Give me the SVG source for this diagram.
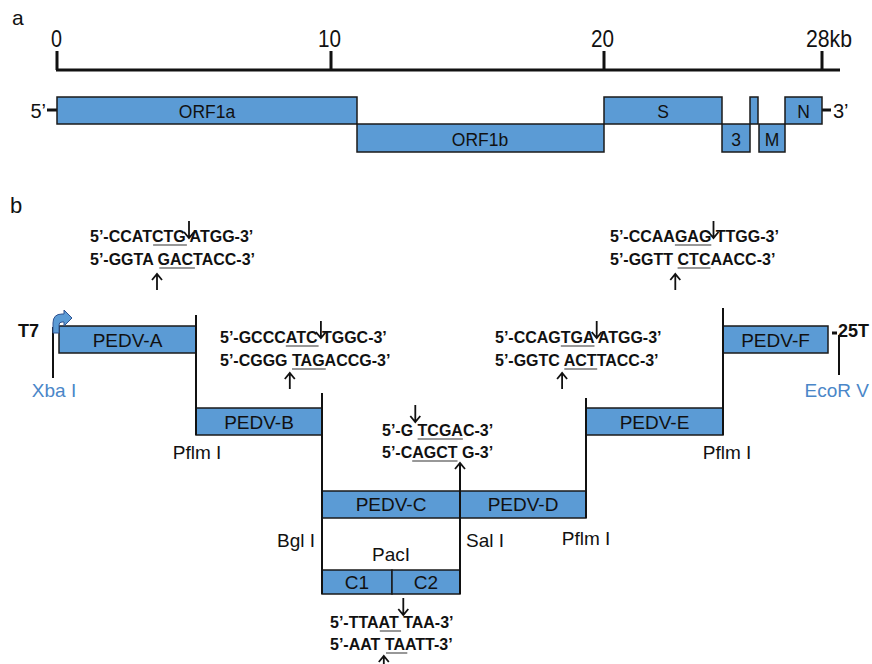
<svg xmlns="http://www.w3.org/2000/svg" width="872" height="664" viewBox="0 0 872 664">
<style>
text{font-family:"Liberation Sans",Arial,sans-serif;fill:#111}
.box{fill:#5B9BD5;stroke:#1a1a1a;stroke-width:1.5}
.bl{font-size:19px;text-anchor:middle}
.gl{font-size:17.5px;text-anchor:middle}
.seq{font-size:16px;font-weight:bold}
.site{font-size:19px}
.blue{fill:#4a86c8}
.ul{stroke:#333;stroke-width:1.2}
.arr{fill:none;stroke:#111;stroke-width:1.8}
.ln{stroke:#111;stroke-width:2;fill:none}
.thick{stroke:#111;stroke-width:3;fill:none}
.scl{font-size:24px}
</style>
<rect width="872" height="664" fill="#fff"/>

<!-- Panel a -->
<g id="panel-a">
  <text x="12" y="25" font-size="21">a</text>
  <g id="scale-bar">
    <line class="thick" x1="56" y1="70" x2="840" y2="70"/>
    <path class="thick" d="M57 51V70M331 51V70M604 51V70M822 51V70"/>
    <text class="scl" x="51" y="47" textLength="11" lengthAdjust="spacingAndGlyphs">0</text>
    <text class="scl" x="318" y="47" textLength="23" lengthAdjust="spacingAndGlyphs">10</text>
    <text class="scl" x="591" y="47" textLength="23" lengthAdjust="spacingAndGlyphs">20</text>
    <text class="scl" x="806" y="47" textLength="46" lengthAdjust="spacingAndGlyphs">28kb</text>
  </g>
  <g id="genome">
    <line class="thick" x1="47" y1="110" x2="57" y2="110"/>
    <text x="46" y="118" font-size="20" text-anchor="end">5’</text>
    <line class="thick" x1="822" y1="110" x2="831" y2="110"/>
    <text x="833" y="118" font-size="20">3’</text>
    <g id="orf1a"><rect class="box" x="57" y="97" width="300" height="27"/><text class="gl" x="207" y="118">ORF1a</text></g>
    <g id="orf1b"><rect class="box" x="357" y="124" width="247" height="28"/><text class="gl" x="480" y="146">ORF1b</text></g>
    <g id="orf-s"><rect class="box" x="604" y="97" width="118" height="27"/><text class="gl" x="663" y="118">S</text></g>
    <g id="orf-3"><rect class="box" x="722" y="124" width="28" height="28"/><text class="gl" x="736" y="146">3</text></g>
    <g id="orf-e"><rect class="box" x="750" y="97" width="8" height="27"/></g>
    <g id="orf-m"><rect class="box" x="759" y="124" width="26" height="28"/><text class="gl" x="772" y="146">M</text></g>
    <g id="orf-n"><rect class="box" x="785" y="97" width="37" height="27"/><text class="gl" x="803.5" y="118">N</text></g>
  </g>
</g>

<!-- Panel b -->
<text x="10" y="213" font-size="22">b</text>

<g id="nodes">
  <g id="pedv-a"><rect class="box" x="59" y="326" width="137" height="27"/><text class="bl" x="127.5" y="347">PEDV-A</text></g>
  <g id="pedv-b"><rect class="box" x="196" y="408" width="126" height="27"/><text class="bl" x="259" y="429">PEDV-B</text></g>
  <g id="pedv-c"><rect class="box" x="322" y="491" width="138" height="27"/><text class="bl" x="391" y="511">PEDV-C</text></g>
  <g id="pedv-d"><rect class="box" x="460" y="491" width="126" height="27"/><text class="bl" x="523" y="511">PEDV-D</text></g>
  <g id="pedv-e"><rect class="box" x="586" y="408" width="137" height="27"/><text class="bl" x="654.5" y="429">PEDV-E</text></g>
  <g id="pedv-f"><rect class="box" x="723" y="326" width="105" height="27"/><text class="bl" x="775.5" y="347">PEDV-F</text></g>
  <g id="c1"><rect class="box" x="322" y="570" width="70" height="24"/><text class="bl" x="357" y="589">C1</text></g>
  <g id="c2"><rect class="box" x="392" y="570" width="68" height="24"/><text class="bl" x="426" y="589">C2</text></g>
</g>

<g id="connectors">
  <path class="ln" d="M196 315V435M322 393V594M460 463V594M586 398V518M723 308V435M53 327V378M839 335V375"/>
  <line class="thick" x1="832" y1="333" x2="837" y2="333"/>
</g>

<g id="t7-promoter">
  <text x="18" y="337" font-size="18" font-weight="bold">T7</text>
  <path d="M53 333L53 323Q53 314 62 314L64 314L64 310L72 318L64 326L64 322L62 322Q59 322 59 325L59 333Z" fill="#5B9BD5" stroke="#2f528f" stroke-width="1"/>
</g>
<text x="838" y="337" font-size="18" font-weight="bold">25T</text>

<g id="site-labels">
  <text class="site blue" x="54" y="397" text-anchor="middle">Xba I</text>
  <text class="site blue" x="869" y="397" text-anchor="end" font-size="17">EcoR V</text>
  <text class="site" x="197" y="459" text-anchor="middle">Pflm I</text>
  <text class="site" x="727" y="459" text-anchor="middle">Pflm I</text>
  <text class="site" x="586" y="545" text-anchor="middle">Pflm I</text>
  <text class="site" x="315" y="547" text-anchor="end">Bgl I</text>
  <text class="site" x="466" y="547">Sal I</text>
  <text class="site" x="391" y="561" text-anchor="middle">PacI</text>
</g>

<g id="seq-pflmi-1">
  <text class="seq" x="90" y="242">5’-CCATCTG ATGG-3’</text>
  <text class="seq" x="90" y="265">5’-GGTA GACTACC-3’</text>
  <path class="ul" d="M153.1 245H186.9M159.3 268H194.9"/>
  <path class="arr" d="M189 221V238M184 232L189 238L194 232"/>
  <path class="arr" d="M157 290V274M152 280L157 274L162 280"/>
</g>
<g id="seq-pflmi-2">
  <text class="seq" x="610" y="242">5’-CCAAGAG TTGG-3’</text>
  <text class="seq" x="610" y="265">5’-GGTT CTCAACC-3’</text>
  <path class="ul" d="M674.9 245H711.3M677.6 268H710.5"/>
  <path class="arr" d="M713.5 221V238M708.5 232L713.5 238L718.5 232"/>
  <path class="arr" d="M675.3 290V274M670.3 280L675.3 274L680.3 280"/>
</g>
<g id="seq-bgli">
  <text class="seq" x="220" y="343">5’-GCCCATC TGGC-3’</text>
  <text class="seq" x="220" y="366">5’-CGGG TAGACCG-3’</text>
  <path class="ul" d="M285.8 346H318.6M292 369H325.8"/>
  <path class="arr" d="M320.9 321V338M315.9 332L320.9 338L325.9 332"/>
  <path class="arr" d="M289.8 389V373M284.8 379L289.8 373L294.8 379"/>
</g>
<g id="seq-pflmi-3">
  <text class="seq" x="495" y="343">5’-CCAGTGA ATGG-3’</text>
  <text class="seq" x="495" y="366">5’-GGTC ACTTACC-3’</text>
  <path class="ul" d="M560.8 346H594.5M564.3 369H597.2"/>
  <path class="arr" d="M596.7 321V338M591.7 332L596.7 338L601.7 332"/>
  <path class="arr" d="M562.1 389V373M557.1 379L562.1 373L567.1 379"/>
</g>
<g id="seq-sali">
  <text class="seq" x="382" y="436">5’-G TCGAC-3’</text>
  <text class="seq" x="382" y="458">5’-CAGCT G-3’</text>
  <path class="ul" d="M417.6 439H462.9M412.2 461H457.5"/>
  <path class="arr" d="M415.3 405V422M410.3 416L415.3 422L420.3 416"/>
  <path class="arr" d="M455 469L460 463L465 469"/>
</g>
<g id="seq-paci">
  <text class="seq" x="330" y="628">5’-TTAAT TAA-3’</text>
  <text class="seq" x="330" y="650">5’-AAT TAATT-3’</text>
  <path class="ul" d="M379.8 631H401.1M386 653H407.3"/>
  <path class="arr" d="M403.3 598V615M398.3 609L403.3 615L408.3 609"/>
  <path class="arr" d="M383.8 666V656M378.8 662L383.8 656L388.8 662"/>
</g>
</svg>
